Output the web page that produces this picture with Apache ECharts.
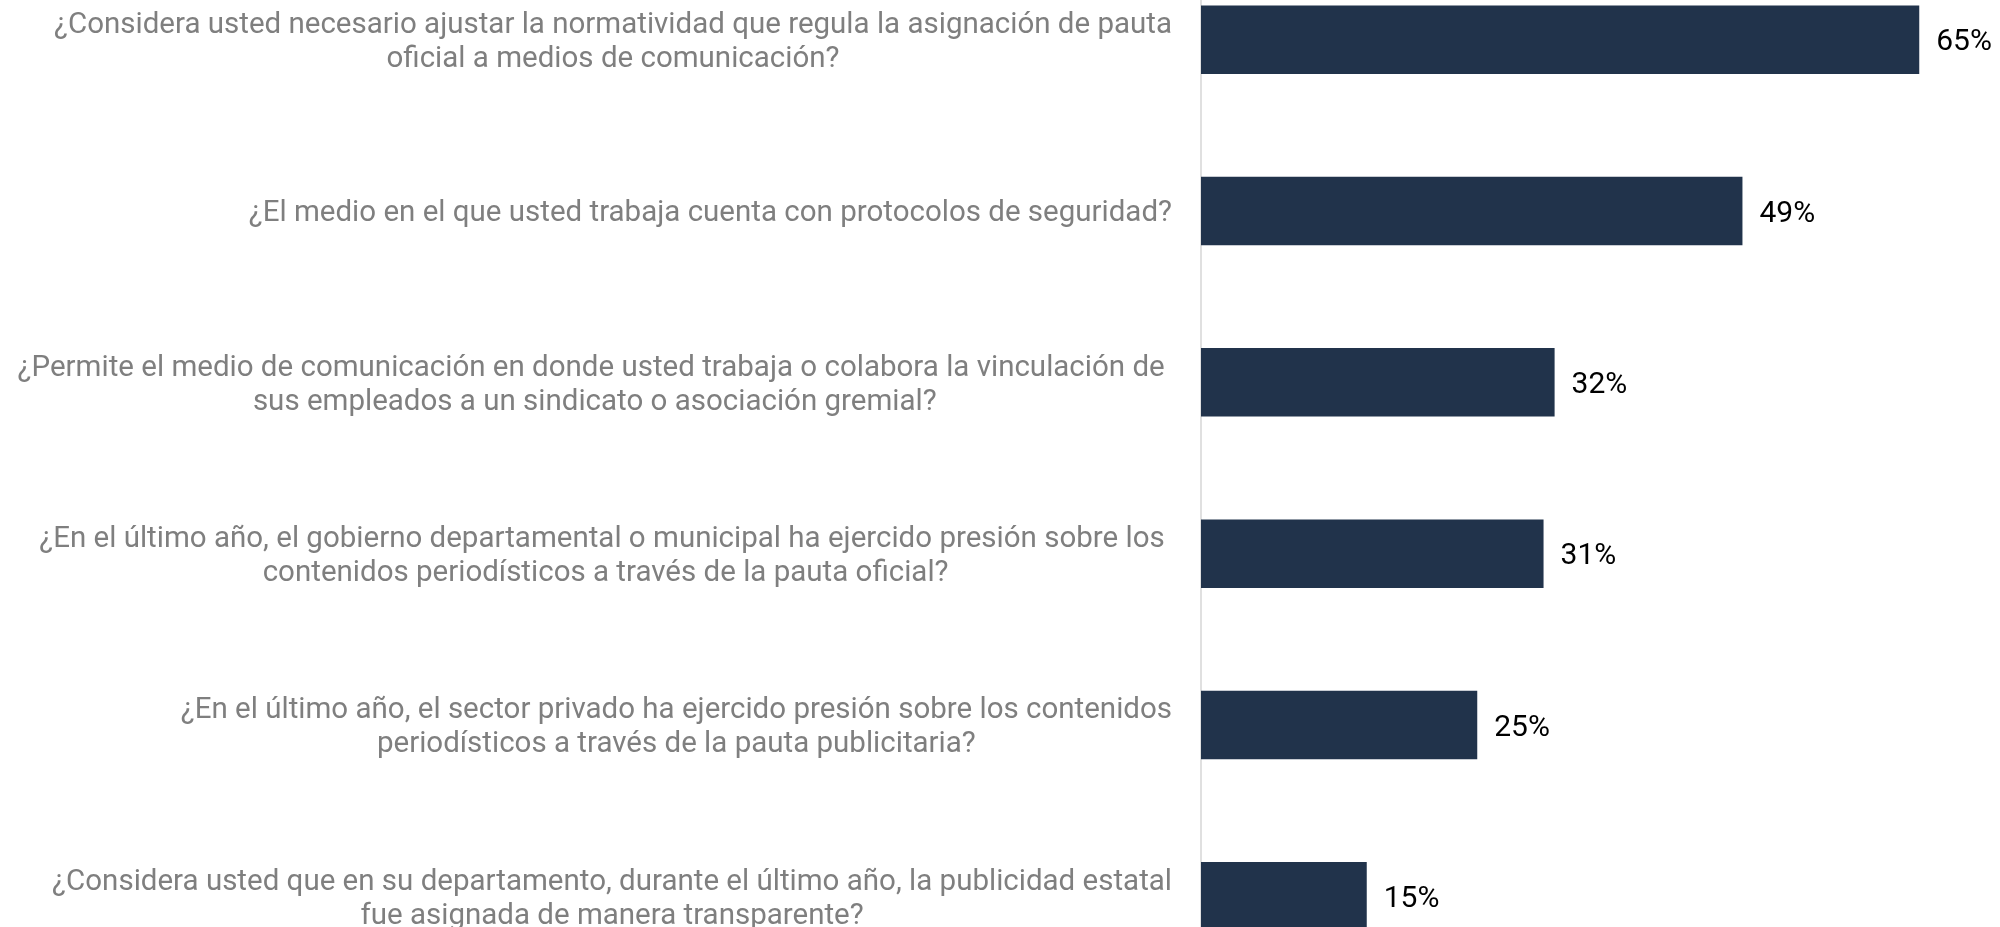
<!DOCTYPE html>
<html>
<head>
<meta charset="utf-8">
<script src="https://cdn.jsdelivr.net/npm/echarts@6/dist/echarts.min.js"></script>
<style>
  html, body { margin: 0; padding: 0; background: #ffffff; }
  #chart { width: 2000px; height: 927px; }
</style>
</head>
<body>
<div id="chart"></div>
<script>
// Survey questions (line breaks as laid out on the chart)
const questions = [
  '¿Considera usted necesario ajustar la normatividad que regula la asignación de pauta\noficial a medios de comunicación?',
  '¿El medio en el que usted trabaja cuenta con protocolos de seguridad?',
  '¿Permite el medio de comunicación en donde usted trabaja o colabora la vinculación de \nsus empleados a un sindicato o asociación gremial?',
  '¿En el último año, el gobierno departamental o municipal ha ejercido presión sobre los \ncontenidos periodísticos a través de la pauta oficial?',
  '¿En el último año, el sector privado ha ejercido presión sobre los contenidos\nperiodísticos a través de la pauta publicitaria?',
  '¿Considera usted que en su departamento, durante el último año, la publicidad estatal\nfue asignada de manera transparente?'
];

// Share of respondents answering "yes" (%)
const yesShare = [65, 49, 32, 31, 25, 15];

const chart = echarts.init(document.getElementById('chart'));

chart.setOption({
  animation: false,
  backgroundColor: '#ffffff',
  grid: {
    left: 1201,
    top: -46,
    width: 773.5,
    height: 1028,
    containLabel: false,
    outerBoundsMode: 'none'
  },
  xAxis: {
    type: 'value',
    min: 0,
    max: 70,
    show: false
  },
  yAxis: {
    type: 'category',
    inverse: true,
    data: questions,
    axisLine: { show: true, lineStyle: { color: '#d6d6d6', width: 1.5 } },
    axisTick: { show: false },
    splitLine: { show: false },
    axisLabel: {
      margin: 29,
      align: 'right',
      padding: [6, 0, 0, 0],
      formatter: function (value) {
        // each line is centred inside the right-aligned text block
        return value.split('\n').map(function (l) { return '{q|' + l + '}'; }).join('\n');
      },
      rich: {
        q: {
          fontFamily: 'Roboto',
          fontSize: 29.5,
          lineHeight: 34,
          color: '#7f7f7f',
          align: 'center'
        }
      }
    }
  },
  series: [{
    type: 'bar',
    data: yesShare,
    barWidth: '40%',
    itemStyle: { color: '#21334b' },
    label: {
      show: true,
      position: 'right',
      distance: 17,
      offset: [0, 3],
      formatter: '{c}%',
      fontFamily: 'Roboto',
      fontSize: 30,
      color: '#000000'
    }
  }]
});
</script>
</body>
</html>
